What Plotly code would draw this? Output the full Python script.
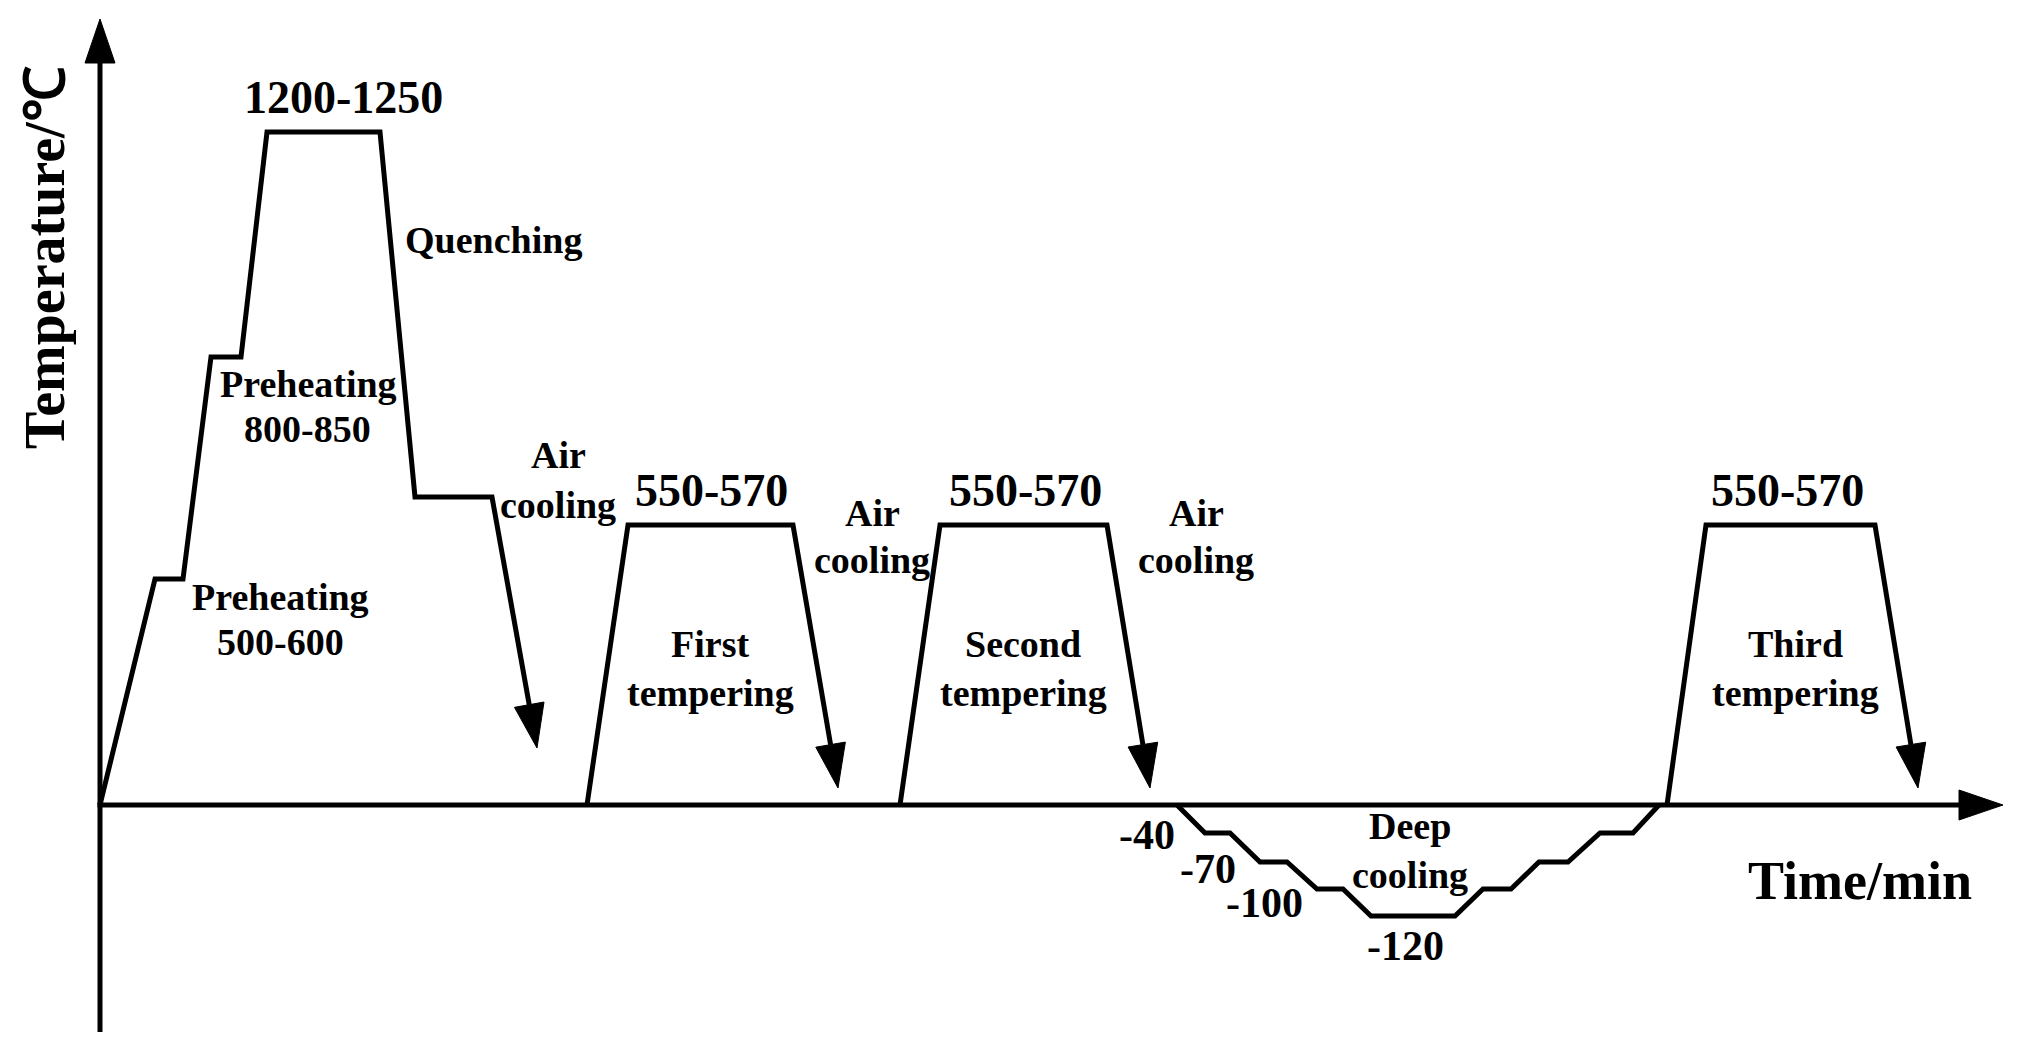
import math

import plotly.graph_objects as go

# Schematic heat-treatment route. Time and temperature are in schematic units
# (the drawing is not to scale).

# preheating -> austenitising -> quenching -> air cooling
heat_time = [0, 5.5, 8.3, 11.1, 14.1, 16.7, 28.0, 31.5, 39.2, 43.7]
heat_temp = [0, 22.6, 22.6, 44.8, 44.8, 67.3, 67.3, 30.8, 30.8, 5.7]

# three tempering cycles, each followed by air cooling
temper1_time = [48.7, 52.8, 69.3, 73.8]
temper2_time = [80.0, 84.0, 100.7, 105.0]
temper3_time = [156.7, 160.6, 177.5, 181.8]
temper_temp = [0, 28.0, 28.0, 1.7]

# stepwise deep cooling (-40 / -70 / -100 / -120) and return to room temp
deep_time = [107.7, 110.5, 113.0, 116.0, 118.7, 121.7, 124.3, 127.1,
             135.5, 138.3, 141.1, 143.9, 146.8, 150.0, 153.3, 155.9]
deep_temp = [0, -2.8, -2.8, -5.7, -5.7, -8.4, -8.4, -11.1,
             -11.1, -8.4, -8.4, -5.7, -5.7, -2.8, -2.8, 0]

# axes of the schematic
time_axis = [-0.25, 190.3]
temp_axis = [-22.7, 78.6]

range_labels = ["1200-1250", "550-570", "550-570", "550-570"]
step_labels = ["-40", "-70", "-100", "-120"]

BLACK = "#000000"
LW = 5
FONT = "Liberation Serif"
DY = 0.3  # small lift so the ink centre of the text sits where it should


def arrow_head(t0, y0, t1, y1, length=4.4, half=1.5):
    dx, dy = t1 - t0, y1 - y0
    n = math.hypot(dx, dy)
    ux, uy = dx / n, dy / n
    bx, by = t1 - ux * length, y1 - uy * length
    px, py = -uy, ux
    xs = [t1, bx + px * half, bx - px * half, t1]
    ys = [y1, by + py * half, by - py * half, y1]
    return xs, ys, (bx, by)


fig = go.Figure()


def add_path(xs, ys, arrow=False, head_len=4.4, head_half=1.5):
    xs, ys = list(xs), list(ys)
    if arrow:
        hx, hy, base = arrow_head(xs[-2], ys[-2], xs[-1], ys[-1], head_len, head_half)
        xs[-1], ys[-1] = base
        fig.add_trace(go.Scatter(x=hx, y=hy, mode="lines", fill="toself",
                                 fillcolor=BLACK, line=dict(color=BLACK, width=1),
                                 hoverinfo="skip"))
    fig.add_trace(go.Scatter(x=xs, y=ys, mode="lines",
                             line=dict(color=BLACK, width=LW), hoverinfo="skip"))


# axes with arrows
add_path(time_axis, [0, 0], arrow=True)
add_path([0, 0], temp_axis, arrow=True)

add_path(heat_time, heat_temp, arrow=True)
add_path(temper1_time, temper_temp, arrow=True)
add_path(temper2_time, temper_temp, arrow=True)
add_path(temper3_time, temper_temp, arrow=True)
add_path(deep_time, deep_temp)


def label(text, x, y, size=38, angle=0):
    fig.add_annotation(x=x, y=y + DY, text=f"<b>{text}</b>", showarrow=False,
                       textangle=angle, xanchor="center", yanchor="middle",
                       font=dict(family=FONT, size=size, color=BLACK))


# temperature ranges
for txt, x in zip(range_labels, [24.3, 61.1, 92.5, 168.7]):
    label(txt, x, 70.5 if txt == "1200-1250" else 31.2, size=46)

label("Quenching", 39.3, 56.2)
label("Preheating", 20.8, 41.8)
label("800-850", 20.7, 37.3)
label("Preheating", 18.0, 20.5)
label("500-600", 18.0, 16.0)

for x, top, bot in [(45.8, 34.7, 29.7), (77.2, 28.9, 24.2), (109.6, 28.9, 24.2)]:
    label("Air", x, top)
    label("cooling", x, bot)

for word, x in [("First", 61.0), ("Second", 92.3), ("Third", 169.5)]:
    label(word, x, 15.8)
    label("tempering", x, 10.9)

for txt, x, y in zip(step_labels, [104.7, 110.8, 116.4, 130.5], [-3.3, -6.7, -10.1, -14.4]):
    label(txt, x, y, size=42)

label("Deep", 131.0, -2.4)
label("cooling", 131.0, -7.3)

label("Time/min", 176.0, -7.9, size=54)
label("Temperature/℃", -5.5, 54.4, size=56, angle=-90)

# the page body adds an 8 px margin, so the figure is 16 px smaller and the
# ranges are set so that one schematic unit is 10 px on both axes
fig.update_layout(
    width=2016,
    height=1040,
    margin=dict(l=0, r=0, t=0, b=0),
    paper_bgcolor="white",
    plot_bgcolor="white",
    showlegend=False,
    xaxis=dict(range=[-9.2, 192.4], visible=False, fixedrange=True),
    yaxis=dict(range=[-24.3, 79.7], visible=False, fixedrange=True),
)

fig.write_html("out.html")
